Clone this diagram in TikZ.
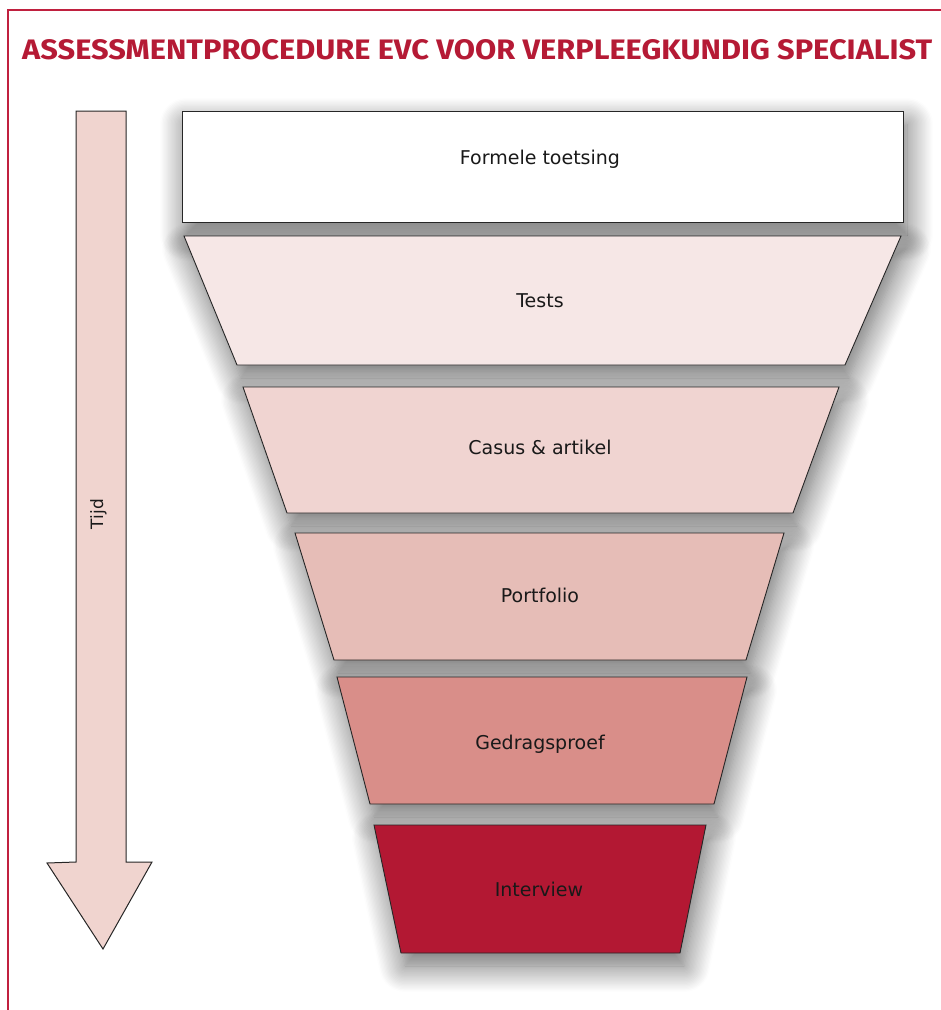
\documentclass[tikz,border=0pt]{standalone}
\usepackage{fontspec}
\setmainfont{DejaVu Sans}
\newfontfamily\titlefont{Fira Sans}
\usetikzlibrary{shadows.blur}
\definecolor{evcred}{HTML}{B51A35}
\definecolor{frame}{HTML}{C0203F}
\definecolor{cTests}{HTML}{F6E7E6}
\definecolor{cCasus}{HTML}{F0D4D1}
\definecolor{cPort}{HTML}{E6BDB7}
\definecolor{cGedrag}{HTML}{D98E89}
\definecolor{cInter}{HTML}{B31833}
\definecolor{cArrow}{HTML}{F0D4CF}
\begin{document}
\begin{tikzpicture}[x=1pt,y=-1pt,
  level/.style={draw=black!85, line width=0.9pt, line join=miter,
    blur shadow={shadow xshift=4pt, shadow yshift=-13pt, shadow blur radius=26pt,
      shadow blur steps=20, shadow opacity=60}},
  lbl/.style={font=\fontsize{19}{19}\selectfont, inner sep=0pt, anchor=base, text=black!90},
  arrowbox/.style={draw=black!85, line width=1pt, fill=cArrow, line join=miter}]
\useasboundingbox (0,0) rectangle (941,1010);
% frame
\draw[frame, line width=2pt] (8,1030) -- (8,10) -- (970,10);
% title
\node[anchor=base west, inner sep=0pt, text=evcred] (title) at (22,59)
  {\resizebox{910pt}{20pt}{\titlefont\bfseries ASSESSMENTPROCEDURE EVC VOOR VERPLEEGKUNDIG SPECIALIST}};
% time arrow
\draw[arrowbox] (76,111) -- (126,111) -- (126,862) -- (152,862) -- (103,949)
  -- (47,863) -- (76,862) -- cycle;
\node[lbl, font=\fontsize{17}{17}\selectfont, rotate=90] (tijd) at (103,514) {Tijd};
% levels
\draw[level, fill=white] (182,111) rectangle (903,222);
\node[lbl] (formele) at (540,164) {Formele toetsing};
\draw[level, fill=cTests] (184,236) -- (901,236) -- (845,365) -- (237,365) -- cycle;
\node[lbl] (tests) at (540,307) {Tests};
\draw[level, fill=cCasus] (243,387) -- (839,387) -- (793,513) -- (287,513) -- cycle;
\node[lbl] (casus) at (540,454) {Casus \& artikel};
\draw[level, fill=cPort] (295,533) -- (784,533) -- (746,660) -- (334,660) -- cycle;
\node[lbl] (portfolio) at (540,602) {Portfolio};
\draw[level, fill=cGedrag] (337,677) -- (747,677) -- (714,804) -- (370,804) -- cycle;
\node[lbl] (gedrag) at (540,749) {Gedragsproef};
\draw[level, fill=cInter] (374,825) -- (706,825) -- (680,953) -- (401,953) -- cycle;
\node[lbl] (interview) at (539,896) {Interview};
\end{tikzpicture}
\end{document}
